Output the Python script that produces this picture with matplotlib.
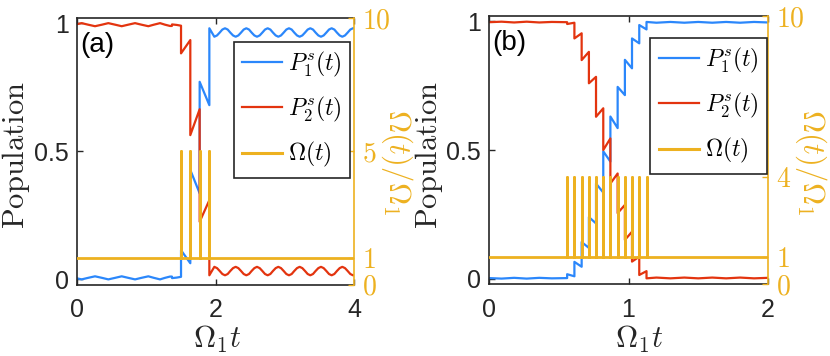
import numpy as np
import matplotlib
matplotlib.use('Agg')
import matplotlib.pyplot as plt
from matplotlib.lines import Line2D

plt.rcParams['font.family'] = ['Liberation Sans', 'DejaVu Sans']
plt.rcParams['mathtext.fontset'] = 'cm'

BLUE = '#2B87FB'
RED = '#E3340F'
YEL = '#EDB120'
AXC = '#262626'

# ---------------- panel (a) data ----------------
a_xmax = 4
a_pulses = [1.502, 1.636, 1.771, 1.911]
a_pulse_h = 5
# before first pulse (small wiggles)
a_pre_t = [0, 0.067, 0.16, 0.26, 0.36, 0.452, 0.55, 0.645, 0.74, 0.838, 0.93,
           1.03, 1.11, 1.199, 1.27, 1.343, 1.37, 1.372, 1.44, 1.502]
a_pre_p1 = [0.004, 0.0, 0.006, 0.012, 0.006, 0.0, 0.006, 0.012, 0.006, 0.0, 0.006,
            0.012, 0.006, 0.0, 0.006, 0.011, 0.011, 0.005, 0.007, 0.010]
a_pre_p2 = [0.996, 1.0, 0.994, 0.988, 0.994, 1.0, 0.994, 0.988, 0.994, 1.0, 0.994,
            0.988, 0.994, 1.0, 0.994, 0.989, 0.989, 0.995, 0.993, 0.990]
# value just after each pulse / just before the next one
a_p1_after = [0.114, 0.427, 0.771, 0.980]
a_p1_before = [0.063, 0.336, 0.680]
a_p2_after = [0.882, 0.563, 0.225, 0.016]
a_p2_before = [0.934, 0.664, 0.309]
# after last pulse (oscillation)
a_post_t = [1.983, 2.022, 2.060, 2.099, 2.137, 2.176, 2.214, 2.253, 2.291, 2.330,
            2.368, 2.407, 2.445, 2.484, 2.522, 2.561, 2.599, 2.638, 2.676, 2.715,
            2.753, 2.792, 2.830, 2.869, 2.907, 2.946, 2.984, 3.023, 3.061, 3.100,
            3.138, 3.177, 3.215, 3.254, 3.292, 3.331, 3.369, 3.408, 3.446, 3.485,
            3.523, 3.562, 3.600, 3.639, 3.677, 3.716, 3.754, 3.793, 3.831, 3.870,
            3.908, 3.947, 3.985, 4.000]
a_post_p1 = ([0.947, 0.952, 0.963, 0.975, 0.980, 0.975, 0.963, 0.952] * 6
             + [0.947, 0.952, 0.963, 0.975, 0.980, 0.980])
a_post_p2 = ([0.049, 0.044, 0.033, 0.021, 0.016, 0.021, 0.033, 0.044] * 6
             + [0.049, 0.044, 0.033, 0.021, 0.016, 0.016])

# ---------------- panel (b) data ----------------
b_xmax = 2
b_pulses = [0.560, 0.612, 0.664, 0.716, 0.767, 0.819, 0.870, 0.922, 0.974,
            1.025, 1.077, 1.129]
b_pulse_h = 4
b_pre_t = [0, 0.09, 0.18, 0.27, 0.36, 0.45, 0.560]
b_pre_p1 = [0.003, 0.001, 0.004, 0.001, 0.004, 0.002, 0.003]
b_pre_p2 = [0.996, 0.998, 0.995, 0.998, 0.995, 0.997, 0.996]
b_p1_after = [0.018, 0.066, 0.143, 0.240, 0.370, 0.495, 0.630, 0.745, 0.850,
              0.933, 0.985, 0.997]
b_p1_before = [0.010, 0.047, 0.120, 0.215, 0.335, 0.455, 0.585, 0.713, 0.817,
               0.914, 0.968]
b_p2_after = [0.989, 0.933, 0.849, 0.759, 0.629, 0.500, 0.370, 0.255, 0.151,
              0.067, 0.015, 0.002]
b_p2_before = [0.994, 0.953, 0.881, 0.784, 0.662, 0.545, 0.409, 0.287, 0.183,
               0.086, 0.030]
b_post_t = [1.20, 1.30, 1.40, 1.50, 1.60, 1.70, 1.80, 1.90, 2.00]
b_post_p1 = [0.994, 0.997, 0.994, 0.997, 0.994, 0.997, 0.994, 0.997, 0.995]
b_post_p2 = [0.005, 0.002, 0.005, 0.002, 0.005, 0.002, 0.005, 0.002, 0.004]


def staircase(pre_t, pre_y, pulses, after, before, post_t, post_y):
    xs, ys = list(pre_t), list(pre_y)
    for k, tk in enumerate(pulses):
        xs.append(tk)
        ys.append(after[k])
        if k < len(before):
            xs.append(pulses[k + 1])
            ys.append(before[k])
    return xs + list(post_t), ys + list(post_y)


def omega_line(pulses, h, xmax):
    xs, ys = [0], [1]
    for t in pulses:
        xs += [t, t, t]
        ys += [1, h, 1]
    return xs + [xmax], ys + [1]


fig = plt.figure(figsize=(8.3, 3.56), dpi=100)


def panel(rect, tag, xmax, xticks, rticks, pulses, h, p1, p2, lab_x, rlab_x, xl_x, leg_anchor):
    ax = fig.add_axes(rect)
    ax.plot(p1[0], p1[1], color=BLUE, lw=1.6)
    ax.plot(p2[0], p2[1], color=RED, lw=1.6)
    ax.set_xlim(0, xmax)
    ax.set_ylim(-0.02, 1.02)
    ax.set_xticks(xticks)
    ax.set_yticks([0, 0.5, 1])
    ax.set_yticklabels(['0', '0.5', '1'])
    ax.tick_params(direction='in', length=4, width=1, color=AXC, labelcolor=AXC,
                   labelsize=18, top=True, right=True)
    ax.tick_params(axis='x', pad=10)
    ax.tick_params(axis='y', pad=6)
    for s in ['left', 'top', 'bottom']:
        ax.spines[s].set_color(AXC)
        ax.spines[s].set_linewidth(1.2)
    ax.spines['right'].set_visible(False)

    ax2 = ax.twinx()
    ox, oy = omega_line(pulses, h, xmax)
    ax2.plot(ox, oy, color=YEL, lw=2)
    ax2.set_ylim(0, 10)
    ax2.set_yticks(rticks)
    ax2.set_yticklabels(['$%d$' % v for v in rticks])
    ax2.tick_params(axis='y', direction='in', length=4, width=1, colors=YEL,
                    labelsize=20, pad=6)
    for s in ['left', 'top', 'bottom']:
        ax2.spines[s].set_visible(False)
    ax2.spines['right'].set_color(YEL)
    ax2.spines['right'].set_linewidth(1.2)

    handles = [Line2D([], [], color=BLUE, lw=1.6),
               Line2D([], [], color=RED, lw=1.6),
               Line2D([], [], color=YEL, lw=2.2)]
    labels = [r'$P_1^s(t)$', r'$P_2^s(t)$', r'$\Omega(t)$']
    leg = ax2.legend(handles, labels, loc='upper right', bbox_to_anchor=leg_anchor,
                     fontsize=17, handlelength=1.7, handletextpad=0.25,
                     labelspacing=0.68, borderpad=0.35, borderaxespad=0,
                     fancybox=False, framealpha=1)
    leg.get_frame().set_edgecolor(AXC)
    leg.get_frame().set_linewidth(1.2)

    ax.text(0.01, 0.9, tag, transform=ax.transAxes, fontsize=20, ha='left',
            va='center', color='black')
    fig.text(lab_x / 830, 1 - 155 / 356, r'$\mathrm{Population}$', fontsize=22,
             rotation=90, ha='center', va='center', color=AXC)
    fig.text(rlab_x / 830, 1 - 162 / 356, r'$\Omega(t)/\Omega_1$', fontsize=22,
             rotation=270, ha='center', va='center', color=YEL)
    fig.text(xl_x / 830, 1 - 339 / 356, r'$\Omega_1 t$', fontsize=22,
             ha='center', va='center', color=AXC)
    return ax


a_blue = staircase(a_pre_t, a_pre_p1, a_pulses, a_p1_after, a_p1_before, a_post_t, a_post_p1)
a_red = staircase(a_pre_t, a_pre_p2, a_pulses, a_p2_after, a_p2_before, a_post_t, a_post_p2)
b_blue = staircase(b_pre_t, b_pre_p1, b_pulses, b_p1_after, b_p1_before, b_post_t, b_post_p1)
b_red = staircase(b_pre_t, b_pre_p2, b_pulses, b_p2_after, b_p2_before, b_post_t, b_post_p2)

panel([0.0928, 0.2008, 0.3337, 0.7486], '(a)', a_xmax, [0, 2, 4], [0, 1, 5, 10],
      a_pulses, a_pulse_h, a_blue, a_red, 16.5, 397, 217.5, (0.9856, 0.911))
panel([0.5892, 0.2022, 0.3361, 0.7528], '(b)', b_xmax, [0, 1, 2], [0, 1, 4, 10],
      b_pulses, b_pulse_h, b_blue, b_red, 429, 811, 639, (0.9953, 0.919))

fig.savefig('out.png', dpi=100)
